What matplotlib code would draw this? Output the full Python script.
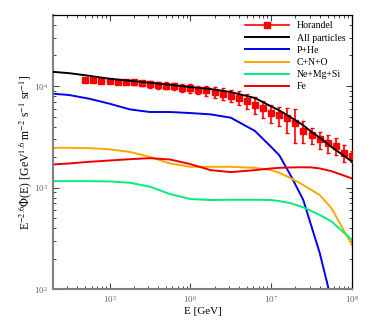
import matplotlib
matplotlib.use('Agg')
import matplotlib.pyplot as plt
from matplotlib.lines import Line2D
import numpy as np

# Horandel data points
horandel_e = [5.0e4, 6.3e4, 7.9e4, 1.0e5, 1.26e5, 1.58e5, 2.0e5, 2.5e5, 3.16e5, 4.0e5,
              5.0e5, 6.3e5, 7.9e5, 1.0e6, 1.26e6, 1.58e6, 2.0e6, 2.5e6, 3.16e6, 4.0e6,
              5.0e6, 6.3e6, 7.9e6, 1.0e7, 1.26e7, 1.58e7, 2.0e7, 2.5e7, 3.16e7, 4.0e7,
              5.0e7, 6.3e7, 7.9e7, 1.0e8]
horandel_flux = [11400, 11500, 11350, 11200, 11050, 11000, 10850, 10700, 10400, 10250,
                 10100, 9950, 9650, 9500, 9200, 9050, 8650, 8400, 8050, 7700,
                 7150, 6550, 6050, 5400, 5150, 4800, 4350, 3650, 3300, 3000,
                 2750, 2580, 2220, 2050]
horandel_relerr = [0.03, 0.03, 0.03, 0.03, 0.03, 0.04, 0.05, 0.06, 0.07, 0.08,
                   0.08, 0.09, 0.09, 0.10, 0.10, 0.11, 0.12, 0.13, 0.14, 0.15,
                   0.17, 0.18, 0.19, 0.20, 0.22, 0.28, 0.36, 0.24, 0.18, 0.19,
                   0.21, 0.19, 0.19, 0.13]

# model curves
curve_e = [2.0e4, 3.16e4, 5.6e4, 1.0e5, 1.78e5, 3.16e5, 5.6e5, 1.0e6, 1.78e6, 3.16e6,
           6.3e6, 1.0e7, 1.26e7, 1.78e7, 2.5e7, 3.16e7, 4.0e7, 5.6e7, 1.0e8]
all_particles = [13800, 13400, 12630, 11800, 11280, 10790, 10300, 9780, 9350, 8740,
                 7630, 6310, 5770, 4890, 4110, 3540, 3110, 2520, 1810]
p_he = [8410, 8170, 7510, 6710, 5900, 5560, 5560, 5430, 5270, 4890,
        3620, 2520, 2090, 1283, 757, 415, 227, 77, 15]
c_n_o = [2470, 2470, 2450, 2390, 2250, 2010, 1733, 1607, 1607, 1607,
         1570, 1490, 1403, 1235, 1062, 949, 847, 627, 274]
ne_mg_si = [1161, 1161, 1161, 1154, 1120, 1024, 867, 774, 757, 762,
            762, 757, 740, 702, 641, 590, 540, 465, 307]
fe = [1694, 1733, 1800, 1853, 1910, 1954, 1897, 1708, 1490, 1425,
      1490, 1548, 1570, 1585, 1590, 1585, 1548, 1455, 1235]

plt.rcParams['font.family'] = ['Liberation Serif', 'DejaVu Serif']
plt.rcParams['mathtext.fontset'] = 'stix'

fig = plt.figure(figsize=(3.74, 3.27), dpi=100)
ax = fig.add_axes([0.142, 0.115, 0.799, 0.839])

lw = 1.4
red = '#ff0000'
ax.errorbar(horandel_e, horandel_flux, yerr=np.array(horandel_flux) * np.array(horandel_relerr),
            fmt='s', color=red, ecolor=red, markersize=5, elinewidth=1.2,
            capsize=1.5, capthick=1, zorder=3)
ax.plot(curve_e, all_particles, color='black', lw=lw, label='All particles', zorder=4)
ax.plot(curve_e, p_he, color='#0000ee', lw=lw, label='P+He')
ax.plot(curve_e, c_n_o, color='#ffa500', lw=lw, label='C+N+O')
ax.plot(curve_e, ne_mg_si, color='#00ee77', lw=lw, label='Ne+Mg+Si')
ax.plot(curve_e, fe, color='#ee0000', lw=lw, label='Fe')

ax.set_xscale('log')
ax.set_yscale('log')
ax.set_xlim(2e4, 1e8)
ax.set_ylim(1e2, 5e4)

ax.set_xlabel('E [GeV]', fontsize=8, labelpad=1)
ax.set_ylabel(r'E$^{-2.6}\Phi$(E) [GeV$^{1.6}$ m$^{-2}$ s$^{-1}$ sr$^{-1}$]', fontsize=8.5, labelpad=0)

ax.tick_params(which='both', direction='in', top=True, right=True, labelsize=6.5,
               labelcolor='#666666', color='#444444')
ax.tick_params(which='major', length=4, width=0.8)
ax.tick_params(which='minor', length=2.5, width=0.7)
for side in ['left', 'bottom']:
    ax.spines[side].set_color('#808080')
    ax.spines[side].set_linewidth(1.5)
for side in ['top', 'right']:
    ax.spines[side].set_linewidth(0.9)

handles, labels = ax.get_legend_handles_labels()
h_hor = Line2D([], [], color=red, lw=1.2, marker='s', markersize=5)
leg = ax.legend([h_hor] + handles, ['Horandel'] + labels, loc='upper right', frameon=False,
                fontsize=7, handlelength=4.5, labelspacing=0.33, borderaxespad=0.25,
                handletextpad=0.8)

fig.savefig('out.png', dpi=100)
